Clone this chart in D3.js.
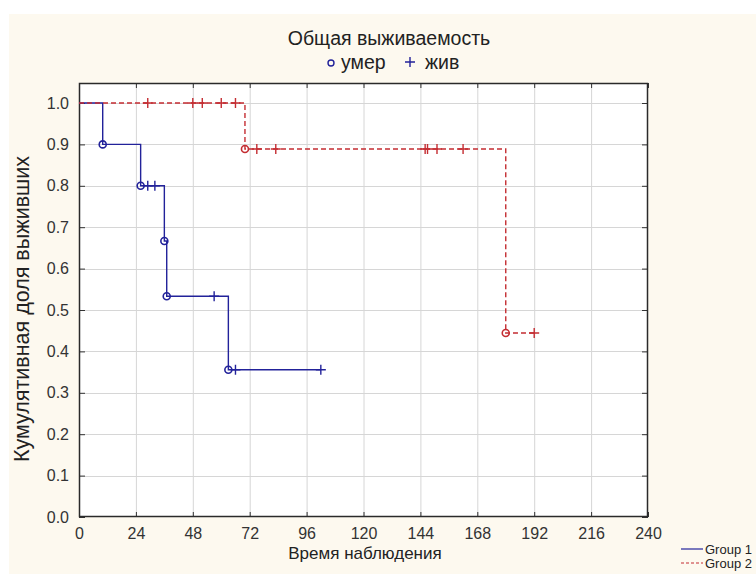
<!DOCTYPE html>
<html><head><meta charset="utf-8">
<script src="https://cdn.jsdelivr.net/npm/d3@7/dist/d3.min.js"></script>
<style>
html,body{margin:0;padding:0;background:#fff;}
svg{display:block;font-family:"Liberation Sans",Arial,sans-serif;}
</style></head>
<body>
<svg id="chart" width="756" height="574"></svg>
<script>
// ---- Data ----
const xTicks = [0,24,48,72,96,120,144,168,192,216,240];
const yTicks = [0,0.1,0.2,0.3,0.4,0.5,0.6,0.7,0.8,0.9,1.0];
// Group 1: time, cumulative survival, status (1 = died "умер", 0 = alive/censored "жив")
const g1Time   = [10, 26, 29, 32, 36, 37, 57, 63, 66, 102];
const g1Surv   = [0.9, 0.8, 0.8, 0.8, 0.6667, 0.5333, 0.5333, 0.3556, 0.3556, 0.3556];
const g1Status = [1, 1, 0, 0, 1, 1, 0, 1, 0, 0];
// Group 2
const g2Time   = [29, 48, 52, 60, 66, 70, 75, 83, 146, 147, 151, 162, 180, 192];
const g2Surv   = [1, 1, 1, 1, 1, 0.8889, 0.8889, 0.8889, 0.8889, 0.8889, 0.8889, 0.8889, 0.4444, 0.4444];
const g2Status = [0, 0, 0, 0, 0, 1, 0, 0, 0, 0, 0, 0, 1, 0];
const groupNames = ["Group  1", "Group  2"];
const title = "Общая выживаемость";
const xLabel = "Время наблюдения";
const yLabel = "Кумулятивная доля выживших";

const svg = d3.select("#chart");
const cream = "#fdf9ef";
svg.append("rect").attr("x",9).attr("y",14).attr("width",747).attr("height",560).attr("fill",cream);

const L = 79, R = 648, T = 83, B = 517;
const x = d3.scaleLinear().domain([0,240]).range([L,R]);
const y = d3.scaleLinear().domain([0,1]).range([B,103]);

svg.append("rect").attr("x",L).attr("y",T).attr("width",R-L).attr("height",B-T).attr("fill","#fff");

// grid
const grid = svg.append("g").attr("stroke","#d6d6d6").attr("stroke-width",1);
xTicks.slice(1,-1).forEach(t=>grid.append("line").attr("x1",x(t)+0.5).attr("x2",x(t)+0.5).attr("y1",T).attr("y2",B));
yTicks.slice(1).forEach(t=>grid.append("line").attr("x1",L).attr("x2",R).attr("y1",Math.round(y(t))+0.5).attr("y2",Math.round(y(t))+0.5));

// axes with inward ticks
const tickFmt = d3.format(".1f");
const axB = svg.append("g").attr("transform",`translate(0,${B})`)
  .call(d3.axisBottom(x).tickValues(xTicks).tickSizeInner(-5).tickSizeOuter(0).tickPadding(11).tickFormat(d3.format("d")));
const axT = svg.append("g").attr("transform",`translate(0,${T})`)
  .call(d3.axisTop(x).tickValues(xTicks).tickSizeInner(-5).tickSizeOuter(0).tickFormat(""));
const axL = svg.append("g").attr("transform",`translate(${L},0)`)
  .call(d3.axisLeft(y).tickValues(yTicks).tickSizeInner(-6).tickSizeOuter(0).tickPadding(10).tickFormat(tickFmt));
const axR = svg.append("g").attr("transform",`translate(${R},0)`)
  .call(d3.axisRight(y).tickValues(yTicks).tickSizeInner(-6).tickSizeOuter(0).tickFormat(""));
[axB,axT,axL,axR].forEach(a=>{
  a.select(".domain").remove();
  a.selectAll(".tick line").attr("stroke","#333");
  a.selectAll("text").attr("fill","#333").attr("font-size",16).attr("font-family","Liberation Sans, Arial, sans-serif");
});
svg.append("rect").attr("x",L+0.5).attr("y",T+0.5).attr("width",R-L-1).attr("height",B-T-1)
  .attr("fill","none").attr("stroke","#2a2a2a").attr("stroke-width",1.5);

// curves
function drawGroup(times, surv, status, color, dash){
  const pts = [[0,1]].concat(times.map((t,i)=>[t,surv[i]]));
  const line = d3.line().x(d=>x(d[0])).y(d=>y(d[1])).curve(d3.curveStepAfter);
  svg.append("path").attr("d",line(pts)).attr("fill","none").attr("stroke",color)
    .attr("stroke-width",1.4).attr("stroke-dasharray",dash);
  times.forEach((t,i)=>{
    const px=x(t), py=y(surv[i]);
    if(status[i]===1){
      svg.append("circle").attr("cx",px).attr("cy",py).attr("r",3.5).attr("fill","none")
        .attr("stroke",color).attr("stroke-width",1.6);
    } else {
      svg.append("path").attr("d",`M${px-5},${py}H${px+5}M${px},${py-5}V${py+5}`)
        .attr("stroke",color).attr("stroke-width",1.4).attr("fill","none");
    }
  });
}
const blue = "#22229a", red = "#c42d32";
drawGroup(g1Time,g1Surv,g1Status,blue,null);
drawGroup(g2Time,g2Surv,g2Status,red,"5,3");

// titles
svg.append("text").attr("x",389).attr("y",45).attr("text-anchor","middle").attr("font-size",19.5).attr("fill","#222").text(title);
const lg = svg.append("g");
lg.append("circle").attr("cx",331).attr("cy",63).attr("r",3).attr("fill","none").attr("stroke",blue).attr("stroke-width",1.4);
lg.append("text").attr("x",341).attr("y",69).attr("font-size",19.5).attr("fill","#222").text("умер");
lg.append("path").attr("d","M405,62H415M410,57V67").attr("stroke",blue).attr("stroke-width",1.4);
lg.append("text").attr("x",425).attr("y",69).attr("font-size",19.5).attr("fill","#222").text("жив");

svg.append("text").attr("x",365).attr("y",559).attr("text-anchor","middle").attr("font-size",17).attr("fill","#222").text(xLabel);
svg.append("text").attr("transform","translate(29,309) rotate(-90)").attr("text-anchor","middle").attr("font-size",21.5).attr("fill","#222").text(yLabel);

// bottom legend
const bl = svg.append("g");
bl.append("line").attr("x1",681).attr("x2",703).attr("y1",549).attr("y2",549).attr("stroke",blue).attr("stroke-width",1.2);
bl.append("line").attr("x1",681).attr("x2",703).attr("y1",563).attr("y2",563).attr("stroke",red).attr("stroke-width",1.2).attr("stroke-dasharray","3,2");
bl.append("text").attr("x",705).attr("y",554).attr("font-size",13).attr("fill","#222").text(groupNames[0]);
bl.append("text").attr("x",705).attr("y",568).attr("font-size",13).attr("fill","#222").text(groupNames[1]);
</script>
</body></html>
